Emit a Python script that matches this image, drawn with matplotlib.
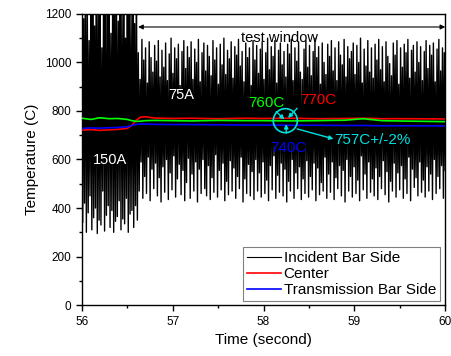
import numpy as np
import matplotlib
matplotlib.use('Agg')
import matplotlib.pyplot as plt
from matplotlib.patches import Ellipse

plt.rcParams['font.family'] = ['Liberation Sans', 'DejaVu Sans']

# incident bar side signal: peak / trough of each cycle, 56.0 -> 60.0 s
t_start, t_end = 56.0, 60.0
peaks = [1320, 1180, 1400, 1250, 1090, 1360, 1290, 1150, 1420, 1230, 1310, 1060, 1380,
         1270, 1200, 1340, 1120, 1410, 1260, 1300, 1170, 1390, 1240, 1330, 1100, 1370,
         1280, 1220, 1350, 1160, 1300,
         1040, 930, 1095, 1010, 1060, 915, 1085, 1020, 960, 1070, 1005, 1090, 940,
         1050, 980, 1080, 925, 1035, 1100, 955, 1060, 1015, 1075, 905, 1045, 1090,
         975, 1065, 1020, 1085, 930, 1055, 1000, 1095, 920, 1040, 1080, 965, 1070,
         1025, 945, 1090, 1010, 1060, 910, 1075, 990, 1100, 950, 1050, 1015, 1085,
         935, 1065, 1030, 1095, 985, 1045, 920, 1080, 1020, 1060, 905, 1090, 1010,
         1070, 955, 1055, 1085, 930, 1040, 1100, 970, 1065, 1025, 1090, 915, 1050,
         1080, 990, 1045, 940, 1075, 1035, 1095, 925, 1060, 1005, 1085, 960, 930,
         1055, 1090, 980, 1070, 945, 1045, 1100, 1020, 1065, 910, 1080, 1000, 950,
         1075, 1025, 1090, 965, 1060, 925, 1085, 1030, 990, 1095, 940, 1065, 1015,
         1045, 1080, 950, 1070, 1000, 1100, 915, 1055, 985, 1090, 960, 1060, 935,
         1075, 1010, 1095, 970, 1065, 920, 1085, 1025, 995, 945, 1080, 1030, 1090,
         910, 1060, 980, 1075, 1040, 1095, 935, 1050, 1070, 960, 1085, 1000, 1065,
         925, 1045, 1090, 975, 1070, 1030, 1080, 920, 1055, 1095, 965, 1060, 1040]
troughs = [340, 420, 300, 380, 450, 310, 360, 400, 295, 350, 330, 470, 305,
           370, 410, 320, 390, 300, 345, 365, 430, 310, 355, 335, 440, 300,
           375, 390, 320, 410, 350,
           470, 590, 440, 530, 460, 610, 430, 560, 480, 585, 450, 525, 425,
           570, 465, 600, 435, 545, 475, 615, 445, 520, 580, 455, 555, 430,
           505, 605, 440, 540, 470, 590, 425, 560, 460, 600, 480, 450, 575,
           435, 525, 465, 620, 445, 555, 475, 585, 430, 510, 455, 595, 470,
           565, 440, 530, 480, 610, 425, 520, 460, 580, 450, 550, 435, 600,
           470, 545, 445, 590, 460, 515, 430, 575, 475, 615, 440, 535, 465,
           585, 450, 560, 425, 510, 470, 600, 440, 545, 480, 570, 435, 520,
           460, 595, 445, 530, 475, 585, 430, 565, 455, 505, 470, 610, 440,
           540, 465, 590, 435, 525, 480, 575, 450, 555, 425, 600, 470, 530,
           445, 570, 460, 515, 430, 615, 475, 540, 440, 590, 465, 520, 450,
           565, 435, 530, 480, 595, 455, 550, 425, 510, 470, 585, 445, 545,
           475, 575, 440, 520, 460, 610, 430, 560, 485, 525, 450, 590, 465,
           515, 445, 570, 470, 540, 435, 600, 460, 530, 480, 575, 440, 555]

# thermocouple traces
t_tc = [56.0, 56.1, 56.2, 56.3, 56.4, 56.5, 56.55, 56.6, 56.65, 56.7, 56.8, 57.0,
        57.2, 57.5, 57.8, 58.0, 58.3, 58.6, 58.9, 59.1, 59.3, 59.6, 60.0]
center = [721, 723, 720, 722, 724, 728, 740, 762, 775, 776, 771, 769,
          770, 768, 770, 769, 770, 768, 769, 770, 768, 768, 767]
center2 = [770, 765, 772, 768, 769, 765, 760, 757, 758, 760, 761, 760,
           759, 761, 760, 760, 759, 760, 762, 768, 760, 758, 756]
trans = [728, 730, 729, 731, 732, 735, 740, 745, 746, 746, 745, 744,
         744, 743, 742, 742, 741, 741, 740, 740, 739, 739, 738]

sig = np.ravel(np.column_stack([peaks, troughs]))
t_sig = np.linspace(t_start, t_end, len(sig))

fig, ax = plt.subplots(figsize=(4.52, 3.56), dpi=100)
fig.subplots_adjust(left=0.181, right=0.985, top=0.961, bottom=0.143)

ax.plot(t_sig, sig, color='black', lw=1.0, label='Incident Bar Side')
ax.plot(t_tc, center, color='#ff0000', lw=1.2, label='Center', zorder=3)
ax.plot(t_tc, center2, color='#00ff00', lw=1.2, zorder=3)
ax.plot(t_tc, trans, color='#0000ff', lw=1.2, label='Transmission Bar Side', zorder=3)

ax.set_xlim(56, 60)
ax.set_ylim(0, 1200)
ax.set_xticks([56, 57, 58, 59, 60])
ax.set_xticks([56.5, 57.5, 58.5, 59.5], minor=True)
ax.set_yticks(range(0, 1201, 200))
ax.set_yticks(range(100, 1200, 200), minor=True)
ax.tick_params(labelsize=8.5, direction='out', length=4, width=1)
ax.tick_params(which='minor', direction='out', length=2.5, width=1)
for s in ax.spines.values():
    s.set_linewidth(1.0)
ax.set_xlabel('Time (second)', fontsize=11)
ax.set_ylabel('Temperature (C)', fontsize=11)

# annotations
ax.annotate('', xy=(56.62, 1146), xytext=(60, 1146),
            arrowprops=dict(arrowstyle='<|-|>', color='black', lw=0.8,
                            mutation_scale=7, shrinkA=0, shrinkB=0))
ax.text(58.18, 1101, 'test window', ha='center', va='center', fontsize=10.5)
ax.text(56.95, 866, '75A', color='white', va='center', fontsize=10.5)
ax.text(56.12, 598, '150A', color='white', va='center', fontsize=10.5)
ax.text(57.83, 833, '760C', color='#00ff00', va='center', fontsize=11)
ax.text(58.40, 845, '770C', color='#ff0000', va='center', fontsize=11)
ax.text(58.07, 647, '740C', color='#0000ff', va='center', fontsize=11)
ax.text(58.78, 680, '757C+/-2%', color='#00e0e0', va='center', fontsize=11)

cy = '#00e0e0'
ax.add_patch(Ellipse((58.24, 760), 0.265, 99, fill=False, ec=cy, lw=1.2, zorder=4))
arw = dict(arrowstyle='-|>', color=cy, lw=1, mutation_scale=6, shrinkA=0, shrinkB=0)
ax.annotate('', xy=(58.23, 765), xytext=(58.14, 797), arrowprops=arw, zorder=5)
ax.annotate('', xy=(58.27, 771), xytext=(58.37, 811), arrowprops=arw, zorder=5)
ax.annotate('', xy=(58.25, 746), xytext=(58.25, 709), arrowprops=arw, zorder=5)
ax.annotate('', xy=(58.77, 685), xytext=(58.37, 726), arrowprops=arw, zorder=5)

leg = ax.legend(loc='lower right', bbox_to_anchor=(0.985, 0.015), fontsize=11,
                fancybox=False, framealpha=1, edgecolor='#808080',
                handlelength=2.2, borderpad=0.25, labelspacing=0.12,
                handletextpad=0.2, borderaxespad=0)
leg.get_frame().set_linewidth(0.8)
leg.get_lines()[0].set_linewidth(0.8)

fig.savefig('out.png', dpi=100)
